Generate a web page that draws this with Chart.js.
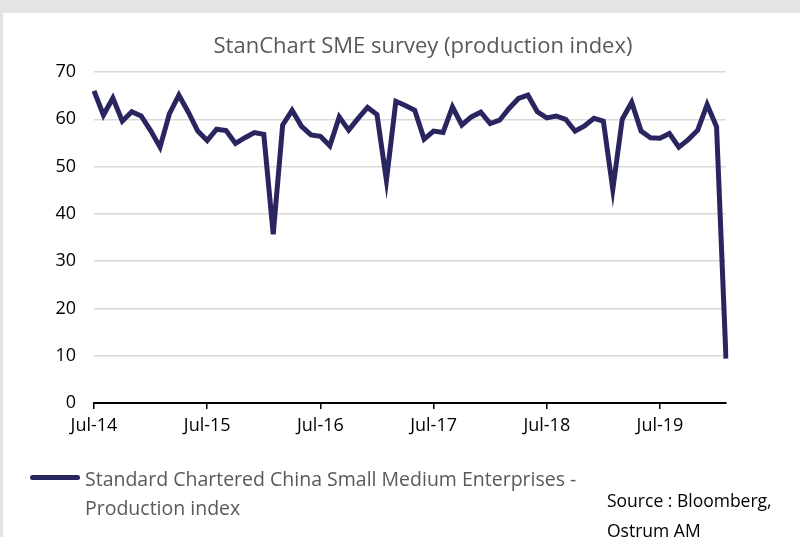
<!DOCTYPE html>
<html>
<head>
<meta charset="utf-8">
<script src="https://cdn.jsdelivr.net/npm/chart.js@4"></script>
<style>
  body { margin: 0; background: #e4e4e4; width: 800px; height: 537px; overflow: hidden; font-family: 'Open Sans', sans-serif; }
  #panel { position: absolute; left: 3px; top: 13px; width: 797px; height: 524px; background: #fff; }
  #chart { position: absolute; left: 0; top: 0; }
  .txt { position: absolute; white-space: nowrap; }
  #title { left: 0; width: 840px; top: 16px; text-align: center; font-size: 22px; color: #595959; }
  #legLine { position: absolute; left: 27px; top: 462px; width: 50px; height: 5px; border-radius: 3px; background: #29255f; }
  #legText { left: 82px; top: 451px; font-size: 19.5px; line-height: 29px; color: #595959; }
  #source { left: 604px; top: 472px; font-size: 17.5px; line-height: 30px; color: #000; }
</style>
</head>
<body>
<div id="panel">
  <canvas id="chart" width="797" height="524"></canvas>
  <div id="title" class="txt">StanChart SME survey (production index)</div>
  <div id="legLine"></div>
  <div id="legText" class="txt">Standard Chartered China Small Medium Enterprises -<br>Production index</div>
  <div id="source" class="txt">Source : Bloomberg,<br>Ostrum AM</div>
</div>
<script>
// monthly, Jul-14 .. Feb-20
const monthNames = ['Jan','Feb','Mar','Apr','May','Jun','Jul','Aug','Sep','Oct','Nov','Dec'];
const months = [];
for (let i = 0; i < 68; i++) {
  const m = (6 + i) % 12;
  const y = 14 + Math.floor((6 + i) / 12);
  months.push(monthNames[m] + '-' + y);
}

const productionIndex = [
  66.0, 60.9, 64.5, 59.6, 61.6, 60.7, 57.6, 54.1, 61.2, 65.1, 61.5, 57.5,
  55.5, 57.9, 57.6, 54.9, 56.1, 57.2, 56.8, 35.7, 58.8, 61.9, 58.5, 56.7,
  56.4, 54.4, 60.5, 57.7, 60.2, 62.5, 61.0, 47.1, 63.8, 62.9, 61.9, 55.8,
  57.5, 57.2, 62.6, 58.8, 60.5, 61.5, 59.1, 59.8, 62.3, 64.4, 65.1, 61.6,
  60.3, 60.7, 60.0, 57.5, 58.6, 60.2, 59.6, 45.2, 60.0, 63.6, 57.5, 56.1,
  56.0, 57.0, 54.1, 55.7, 57.7, 63.1, 58.4, 9.4
];

const yTicks = [0, 10, 20, 30, 40, 50, 60, 70];

const tickFont = { family: "'Open Sans', sans-serif", size: 18 };

new Chart(document.getElementById('chart').getContext('2d'), {
  type: 'line',
  data: {
    labels: months,
    datasets: [{
      label: 'Standard Chartered China Small Medium Enterprises - Production index',
      data: productionIndex,
      borderColor: '#29255f',
      borderWidth: 5,
      pointRadius: 0,
      tension: 0,
      borderJoinStyle: 'miter'
    }]
  },
  options: {
    responsive: false,
    animation: false,
    layout: { padding: { top: 59, right: 74, left: 0, bottom: 0 } },
    plugins: { legend: { display: false }, title: { display: false }, tooltip: { enabled: false } },
    scales: {
      x: {
        type: 'category',
        offset: false,
        afterBuildTicks: axis => { axis.ticks = axis.ticks.filter(t => t.value % 12 === 0); },
        afterFit: axis => { axis.height = 134; },
        border: { display: true, color: '#000', width: 2 },
        grid: { drawOnChartArea: false, drawTicks: true, tickLength: 6, color: '#000', lineWidth: 1.5 },
        ticks: { autoSkip: false, maxRotation: 0, minRotation: 0, color: '#000', font: tickFont, padding: 6 }
      },
      y: {
        min: 0,
        max: 70,
        afterBuildTicks: axis => { axis.ticks = yTicks.map(v => ({ value: v })); },
        afterFit: axis => { axis.width = 91; },
        border: { display: false },
        grid: { color: '#d9d9d9', lineWidth: 1.5, drawTicks: false },
        ticks: { color: '#000', font: tickFont, padding: 18 }
      }
    }
  }
});
</script>
</body>
</html>
